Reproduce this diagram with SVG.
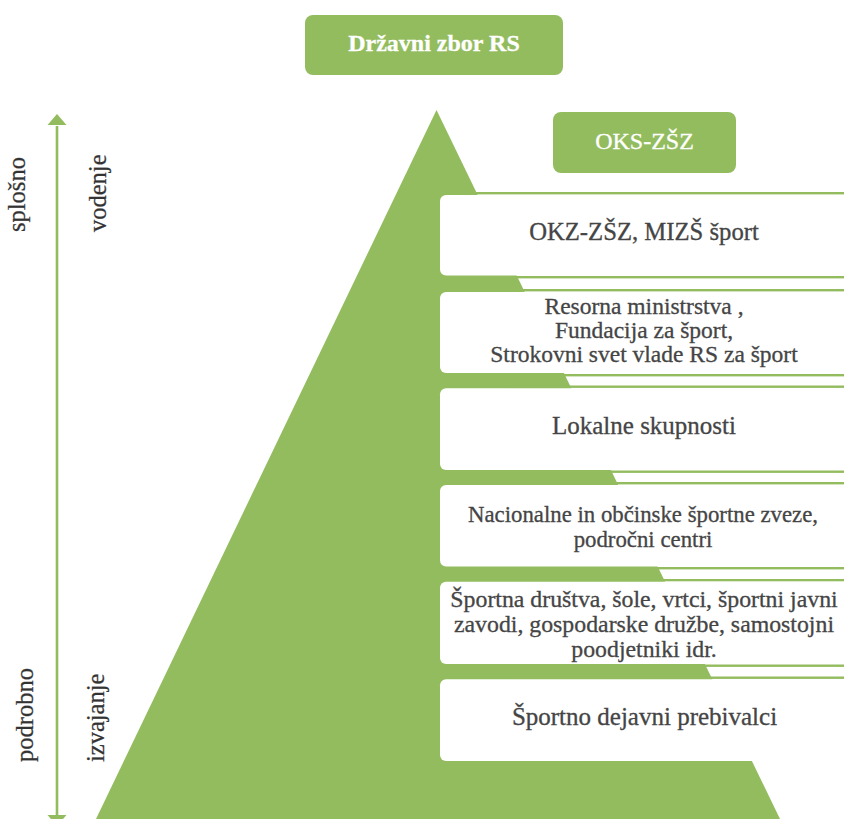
<svg xmlns="http://www.w3.org/2000/svg" width="844" height="819" viewBox="0 0 844 819">
<defs>
<style>
.g{fill:#93bc5e}
.box{fill:#ffffff}
.ln{fill:#93bc5e}
text{font-family:'Liberation Serif','DejaVu Serif','Noto Serif',serif}
.t{fill:#454545;stroke:#454545;stroke-width:0.3px;text-anchor:middle}
.w{fill:#ffffff;stroke:#ffffff;stroke-width:0.3px;text-anchor:middle;font-size:24px}
.side{fill:#333333;stroke:#333333;stroke-width:0.25px;font-size:24.5px}
</style>
</defs>
<rect width="844" height="819" fill="#ffffff"/>
<polygon id="pyramid" class="g" points="436.5,110 96,819 780,819"/>
<g id="connectors">
<line x1="57" y1="126" x2="57" y2="815" stroke="#93bc5e" stroke-width="2.6"/>
<path d="M47.5,125 L57,114 L66.5,125 Z" fill="#93bc5e"/>
<path d="M47.5,815 L57,826 L66.5,815 Z" fill="#93bc5e"/>
</g>
<g id="node-drzavni-zbor">
<rect class="g" x="305" y="15" width="258" height="60" rx="8"/>
<text class="w" x="434" y="51" font-weight="bold" font-family="Liberation Serif, serif">Državni zbor RS</text>
</g>
<g id="node-oks">
<rect class="g" x="553" y="112" width="183" height="61" rx="8"/>
<text class="w" x="644.5" y="149" font-family="Liberation Serif, serif">OKS-ZŠZ</text>
</g>
<g id="node-1">
<rect class="ln" x="440" y="192" width="404" height="2.4"/>
<rect class="ln" x="440" y="276" width="404" height="2.4"/>
<rect class="box" x="440" y="195" width="410" height="80.5" rx="6"/>
<text class="t" x="644" y="240" font-size="24.7" font-family="Liberation Serif, serif">OKZ-ZŠZ, MIZŠ šport</text>
</g>
<g id="node-2">
<rect class="ln" x="440" y="289" width="404" height="2.4"/>
<rect class="ln" x="440" y="374" width="404" height="2.4"/>
<rect class="box" x="440" y="292" width="410" height="81" rx="6"/>
<text class="t" x="644" y="314" font-size="23.5" font-family="Liberation Serif, serif">Resorna ministrstva ,</text>
<text class="t" x="644" y="338" font-size="23.5" font-family="Liberation Serif, serif">Fundacija za šport,</text>
<text class="t" x="644" y="362" font-size="23.5" font-family="Liberation Serif, serif">Strokovni svet vlade RS za šport</text>
</g>
<g id="node-3">
<rect class="ln" x="440" y="385.5" width="404" height="2.4"/>
<rect class="ln" x="440" y="470.5" width="404" height="2.4"/>
<rect class="box" x="440" y="388.3" width="410" height="81.7" rx="6"/>
<text class="t" x="644" y="434" font-size="25" font-family="Liberation Serif, serif">Lokalne skupnosti</text>
</g>
<g id="node-4">
<rect class="ln" x="440" y="482" width="404" height="2.4"/>
<rect class="ln" x="440" y="567" width="404" height="2.4"/>
<rect class="box" x="440" y="485" width="410" height="81.5" rx="6"/>
<text class="t" x="643" y="522" font-size="22.8" font-family="Liberation Serif, serif">Nacionalne in občinske športne zveze,</text>
<text class="t" x="643" y="547" font-size="22.8" font-family="Liberation Serif, serif">področni centri</text>
</g>
<g id="node-5">
<rect class="ln" x="440" y="579" width="404" height="2.4"/>
<rect class="ln" x="440" y="664.5" width="404" height="2.4"/>
<rect class="box" x="440" y="581.7" width="410" height="82.3" rx="6"/>
<text class="t" x="644" y="607" font-size="23.8" font-family="Liberation Serif, serif">Športna društva, šole, vrtci, športni javni</text>
<text class="t" x="644" y="632" font-size="23.8" font-family="Liberation Serif, serif">zavodi, gospodarske družbe, samostojni</text>
<text class="t" x="644" y="657" font-size="23.8" font-family="Liberation Serif, serif">poodjetniki idr.</text>
</g>
<g id="node-6">
<rect class="ln" x="440" y="676.5" width="404" height="2.4"/>
<rect class="box" x="440" y="679.3" width="410" height="81.7" rx="6"/>
<text class="t" x="644.5" y="725" font-size="25" font-family="Liberation Serif, serif">Športno dejavni prebivalci</text>
</g>
<g id="labels">
<text class="side" transform="translate(25,232) rotate(-90)" font-family="Liberation Serif, serif">splošno</text>
<text class="side" transform="translate(106,232) rotate(-90)" font-family="Liberation Serif, serif">vodenje</text>
<text class="side" transform="translate(33,762) rotate(-90)" font-size="26" font-family="Liberation Serif, serif">podrobno</text>
<text class="side" transform="translate(104,762) rotate(-90)" font-family="Liberation Serif, serif">izvajanje</text>
</g>
</svg>
